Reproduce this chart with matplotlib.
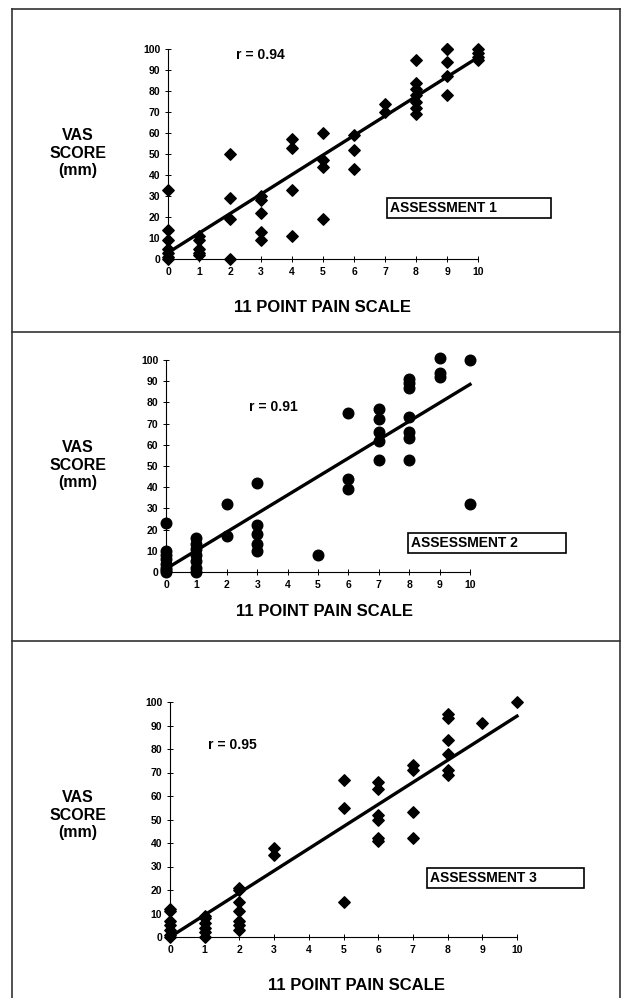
import matplotlib
matplotlib.use("Agg")
import matplotlib.pyplot as plt
from matplotlib.patches import Rectangle
from matplotlib.lines import Line2D

plt.rcParams['font.family'] = ['Liberation Sans', 'DejaVu Sans']
plt.rcParams['font.weight'] = 'bold'

# pain scale score -> VAS scores (mm)
a1_x = [0]*7 + [1]*5 + [2]*4 + [3]*5 + [4]*4 + [5]*4 + [6]*3 + [7]*2 + [8]*7 + [9]*5 + [10]*4
a1_y = [33, 14, 9, 5, 3, 1, 0,
        11, 9, 5, 3, 2,
        50, 29, 19, 0,
        30, 28, 22, 13, 9,
        57, 53, 33, 11,
        60, 47, 44, 19,
        59, 52, 43,
        74, 70,
        95, 84, 81, 78, 75, 72, 69,
        100, 100, 94, 87, 78,
        100, 98, 96, 95]

a2_x = [0]*8 + [1]*7 + [2]*2 + [3]*5 + [5] + [6]*3 + [7]*5 + [8]*7 + [9]*3 + [10]*2
a2_y = [23, 10, 8, 6, 4, 2, 1, 0,
        16, 13, 11, 8, 5, 2, 0,
        32, 17,
        42, 22, 18, 13, 10,
        8,
        75, 44, 39,
        77, 72, 66, 62, 53,
        91, 89, 87, 73, 66, 63, 53,
        101, 94, 92,
        100, 32]

a3_x = [0]*7 + [1]*6 + [2]*7 + [3]*2 + [5]*3 + [6]*6 + [7]*4 + [8]*6 + [9] + [10]
a3_y = [12, 11, 7, 5, 3, 1, 0,
        9, 8, 6, 4, 2, 0,
        21, 20, 15, 11, 7, 5, 3,
        38, 35,
        67, 55, 15,
        66, 63, 52, 50, 42, 41,
        73, 71, 53, 42,
        95, 93, 84, 78, 71, 69,
        91,
        100]

# fitted line (intercept, slope) and r as printed
fits = [(3, 9.3), (1.5, 8.7), (0, 9.4)]
r_vals = ["0.94", "0.91", "0.95"]
names = ["ASSESSMENT 1", "ASSESSMENT 2", "ASSESSMENT 3"]
markers = ["D", "o", "D"]
msizes = [34, 58, 34]

W, H = 623, 998
fig = plt.figure(figsize=(W/100, H/100), dpi=100)

def fx(px):
    return px / W

def fy(py):
    return 1 - py / H

# axes boxes in pixels: x at 0, x at 10, y at 100, y at 0
ax_px = [(168, 478, 49, 259), (166, 470, 360, 572), (170, 517, 702, 937)]
ylab_px = [(78, 153), (78, 465), (78, 815)]
r_px = [(260, 55), (273, 407), (232, 745)]
box_px = [(387, 198, 164, 20), (408, 533, 158, 20), (427, 868, 157, 20)]
xlab_px = [(323, 307), (325, 612), (357, 985)]

data = [(a1_x, a1_y), (a2_x, a2_y), (a3_x, a3_y)]

for i in range(3):
    x0, x1, y1, y0 = ax_px[i]
    ax = fig.add_axes([fx(x0), fy(y0), fx(x1 - x0), (y0 - y1) / H])
    xs, ys = data[i]
    ax.scatter(xs, ys, s=msizes[i], marker=markers[i], color='black', clip_on=False, zorder=3)
    b, m = fits[i]
    ax.plot([0, 10], [b, b + 10*m], color='black', lw=2.4, clip_on=False, zorder=2)
    ax.set_xlim(0, 10)
    ax.set_ylim(0, 100)
    ax.set_xticks(range(11))
    ax.set_yticks(range(0, 101, 10))
    ax.spines['top'].set_visible(False)
    ax.spines['right'].set_visible(False)
    for s in ['left', 'bottom']:
        ax.spines[s].set_linewidth(0.8)
    ax.tick_params(direction='inout', length=5, width=0.7, labelsize=7.5, pad=3)
    for lab in ax.get_xticklabels() + ax.get_yticklabels():
        lab.set_fontweight('bold')
    ax.patch.set_alpha(0)

    lx, ly = ylab_px[i]
    fig.text(fx(lx), fy(ly), "VAS\nSCORE\n(mm)", ha='center', va='center',
             fontsize=11.5, fontweight='bold', linespacing=1.2)
    rx, ry = r_px[i]
    fig.text(fx(rx), fy(ry), "r = " + r_vals[i], ha='center', va='center', fontsize=10)
    bx, by, bw, bh = box_px[i]
    fig.patches.append(Rectangle((fx(bx), fy(by + bh)), fx(bw), bh / H, transform=fig.transFigure,
                                 fill=False, edgecolor='black', lw=1.2))
    fig.text(fx(bx + 3), fy(by + bh/2), names[i], ha='left', va='center',
             fontsize=10, fontweight='bold')
    tx, ty = xlab_px[i]
    fig.text(fx(tx), fy(ty), "11 POINT PAIN SCALE", ha='center', va='center',
             fontsize=12, fontweight='bold')

# panel frame
frame = [((12, 620), (9, 9)), ((12, 12), (9, 998)), ((620, 620), (9, 998)),
         ((12, 620), (332, 332)), ((12, 620), (641, 641))]
for (xa, ya) in frame:
    fig.lines.append(Line2D([fx(v) for v in xa], [fy(v) for v in ya], transform=fig.transFigure,
                            color='#333333', lw=1.2))

fig.savefig("out.png", dpi=100)
